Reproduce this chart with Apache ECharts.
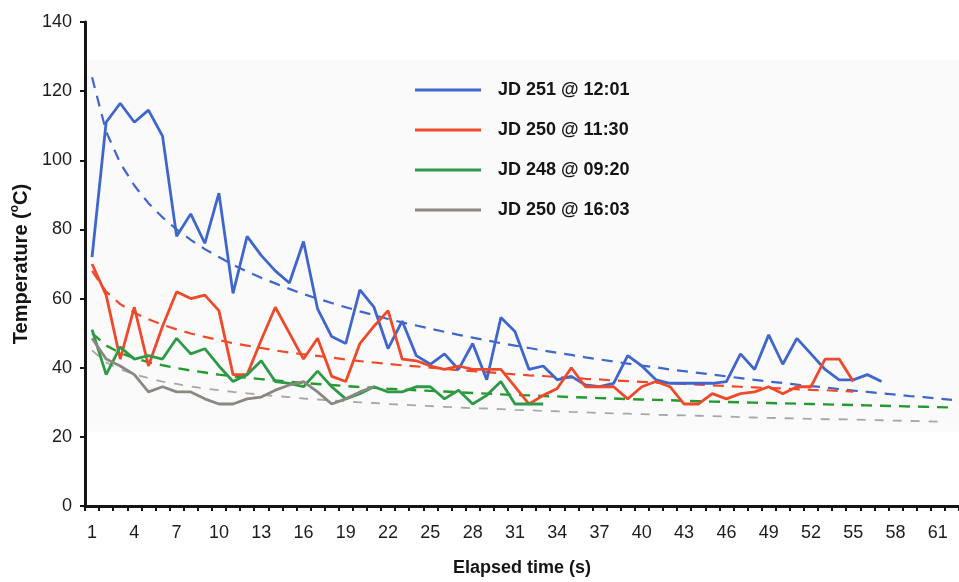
<!DOCTYPE html>
<html>
<head>
<meta charset="utf-8">
<title>Temperature vs elapsed time</title>
<script src="https://cdn.jsdelivr.net/npm/echarts@6/dist/echarts.min.js"></script>
<style>
  html, body { margin: 0; padding: 0; background: #ffffff; }
  #chart { width: 959px; height: 582px; }
</style>
</head>
<body>
<div id="chart"></div>
<script>
// Elapsed time categories (s)
const categories = ['1','2','3','4','5','6','7','8','9','10','11','12','13','14','15','16','17','18','19','20',
  '21','22','23','24','25','26','27','28','29','30','31','32','33','34','35','36','37','38','39','40',
  '41','42','43','44','45','46','47','48','49','50','51','52','53','54','55','56','57','58','59','60','61','62'];

// Y-axis ticks (°C)
const yTicks = [0, 20, 40, 60, 80, 100, 120, 140];

// Series names
const names = ['JD 251 @ 12:01', 'JD 250 @ 11:30', 'JD 248 @ 09:20', 'JD 250 @ 16:03'];

// Measured temperatures (°C)
const jd251_1201 = [72, 111, 116.5, 111, 114.5, 107, 78, 84.5, 76, 90.5, 61.5, 78, 72.5, 68, 64.5, 76.5, 57, 49, 47, 62.5,
  57.5, 45.5, 53.5, 43.5, 41, 44, 39.5, 47, 36.5, 54.5, 50.5, 39.5, 40.5, 36.5, 37.5, 35, 34.5, 35.5, 43.5, 40.5,
  36.5, 35.5, 35.5, 35.5, 35.5, 36, 44, 39.5, 49.5, 41, 48.5, 44, 39.5, 36.5, 36.5, 38, 36];
const jd250_1130 = [70, 61, 42.5, 57.5, 40.5, 52, 62, 60, 61, 56.5, 38, 38, 48, 57.5, 50, 42.5, 48.5, 37.5, 36, 47,
  52, 56.5, 42.5, 42, 40.5, 39.5, 40.5, 39.5, 39.5, 39.5, 34.5, 29.5, 32, 34, 40, 34.5, 34.5, 34.5, 31, 34.5,
  36, 34.5, 29.5, 29.5, 32.5, 31, 32.5, 33, 34.5, 32.5, 34.5, 34.5, 42.5, 42.5, 36];
const jd248_0920 = [51, 38, 46, 42.5, 43.5, 42.5, 48.5, 44, 45.5, 40.5, 36, 38, 42, 36, 35.5, 34.5, 39, 34.5, 31, 32.5,
  34.5, 33, 33, 34.5, 34.5, 31, 33.5, 29.5, 32, 36, 29.5, 29.5, 29.5];
const jd250_1603 = [48.5, 42.5, 40.5, 38, 33, 34.5, 33, 33, 31, 29.5, 29.5, 31, 31.5, 33.5, 35, 36, 33, 29.5, 31, 33, 34.5];

// Trend curves (°C)
const trend251 = [124, 108.3, 99.2, 92.7, 87.6, 83.5, 80, 77, 74.3, 72, 69.8, 67.8, 66, 64.4, 62.8, 61.3, 60, 58.7, 57.5, 56.3,
  55.2, 54.1, 53.1, 52.2, 51.3, 50.4, 49.5, 48.7, 47.9, 47.1, 46.4, 45.7, 45, 44.3, 43.7, 43, 42.4, 41.8, 41.2, 40.6,
  40.1, 39.5, 39, 38.5, 38, 37.5, 37, 36.5, 36, 35.6, 35.1, 34.7, 34.3, 33.8, 33.4, 33, 32.6, 32.2, 31.8, 31.5, 31.1, 30.7];
const trend250a = [68, 62, 58.4, 55.9, 54, 52.4, 51.1, 49.9, 48.9, 48, 47.1, 46.4, 45.7, 45, 44.4, 43.9, 43.4, 42.9, 42.4, 41.9,
  41.5, 41.1, 40.7, 40.4, 40, 39.7, 39.3, 39, 38.7, 38.4, 38.1, 37.8, 37.6, 37.3, 37.1, 36.8, 36.6, 36.3, 36.1, 35.9,
  35.7, 35.5, 35.3, 35.1, 34.9, 34.7, 34.5, 34.3, 34.1, 34, 33.8, 33.6, 33.5, 33.3, 33.1];
const trend248 = [50, 46.4, 44.3, 42.8, 41.6, 40.7, 39.9, 39.2, 38.6, 38, 37.5, 37.1, 36.7, 36.3, 35.9, 35.6, 35.3, 35, 34.7, 34.4,
  34.2, 33.9, 33.7, 33.5, 33.3, 33.1, 32.9, 32.7, 32.5, 32.3, 32.1, 32, 31.8, 31.7, 31.5, 31.4, 31.2, 31.1, 30.9, 30.8,
  30.7, 30.6, 30.4, 30.3, 30.2, 30.1, 30, 29.9, 29.8, 29.7, 29.6, 29.5, 29.4, 29.3, 29.2, 29.1, 29, 28.9, 28.8, 28.7, 28.6, 28.5];
const trend250b = [45, 41.5, 39.5, 38.1, 37, 36, 35.3, 34.6, 34, 33.5, 33, 32.6, 32.2, 31.8, 31.5, 31.1, 30.8, 30.5, 30.3, 30,
  29.8, 29.5, 29.3, 29.1, 28.9, 28.7, 28.5, 28.3, 28.2, 28, 27.8, 27.7, 27.5, 27.4, 27.2, 27.1, 26.9, 26.8, 26.7, 26.6,
  26.4, 26.3, 26.2, 26.1, 26, 25.9, 25.7, 25.6, 25.5, 25.4, 25.3, 25.2, 25.1, 25.1, 25, 24.9, 24.8, 24.7, 24.6, 24.5, 24.4];

const colors = {
  blue: '#3f66cc',
  red: '#f0492a',
  green: '#2e9a48',
  gray: '#8c8782',
  grayTrend: '#a9a7a4',
  greenTrend: '#24992e'
};

const FONT = '"Liberation Sans", Arial, Helvetica, sans-serif';

function solid(name, data, color) {
  return {
    name: name, type: 'line', data: data, symbol: 'none', z: 3,
    lineStyle: { color: color, width: 2.8 }, itemStyle: { color: color }
  };
}
function dashed(name, data, color, width, dash) {
  return {
    name: name, type: 'line', data: data, symbol: 'none', z: 2,
    lineStyle: { color: color, width: width, type: dash }, itemStyle: { color: color }
  };
}

const chart = echarts.init(document.getElementById('chart'), null, { renderer: 'canvas' });

chart.setOption({
  animation: false,
  backgroundColor: '#ffffff',
  textStyle: { fontFamily: FONT },
  grid: { left: 85, top: 22, bottom: 74, width: 876, containLabel: false },
  legend: {
    data: names,
    orient: 'vertical',
    left: 410,
    top: 76,
    itemWidth: 66,
    itemHeight: 3,
    itemGap: 22,
    icon: 'rect',
    textStyle: { fontFamily: FONT, fontSize: 18, fontWeight: 'bold', color: '#141414', padding: [0, 0, 0, 12] }
  },
  xAxis: {
    type: 'category',
    data: categories,
    boundaryGap: true,
    z: 5,
    name: 'Elapsed time (s)',
    nameLocation: 'middle',
    nameGap: 53,
    nameTextStyle: { fontFamily: FONT, fontSize: 18, fontWeight: 'bold', color: '#141414' },
    axisLine: { lineStyle: { color: '#151515', width: 3 } },
    axisTick: { show: true, interval: 0, length: 5, lineStyle: { color: '#151515', width: 2 } },
    axisLabel: { interval: 2, fontSize: 18, color: '#1c1c1c', margin: 18, fontFamily: FONT },
    splitLine: { show: false }
  },
  yAxis: {
    type: 'value',
    min: yTicks[0],
    max: yTicks[yTicks.length - 1],
    interval: yTicks[1] - yTicks[0],
    z: 5,
    name: '{t|Temperature (}{s|o}{t|C)}',
    nameLocation: 'middle',
    nameGap: 52,
    nameTextStyle: {
      rich: {
        t: { fontFamily: FONT, fontSize: 20, fontWeight: 'bold', color: '#141414', lineHeight: 24 },
        s: { fontFamily: FONT, fontSize: 12, fontWeight: 'bold', color: '#141414', lineHeight: 24, verticalAlign: 'top', padding: [0, 0, 8, 0] }
      }
    },
    axisLine: { show: true, lineStyle: { color: '#151515', width: 3 } },
    axisTick: { show: true, length: 5, lineStyle: { color: '#151515', width: 2 } },
    axisLabel: { fontSize: 18, color: '#1c1c1c', margin: 13, fontFamily: FONT },
    splitLine: { show: false }
  },
  series: [
    Object.assign(solid(names[0], jd251_1201, colors.blue), {
      markArea: {
        silent: true,
        itemStyle: { color: '#fafafa' },
        data: [[{ yAxis: 21.5 }, { yAxis: 129 }]]
      }
    }),
    solid(names[1], jd250_1130, colors.red),
    solid(names[2], jd248_0920, colors.green),
    solid(names[3], jd250_1603, colors.gray),
    dashed(names[0] + ' trend', trend251, colors.blue, 2.2, [11, 8]),
    dashed(names[1] + ' trend', trend250a, colors.red, 2.2, [11, 8]),
    dashed(names[2] + ' trend', trend248, colors.greenTrend, 2.4, [11, 8]),
    dashed(names[3] + ' trend', trend250b, colors.grayTrend, 1.8, [9, 9])
  ]
});
</script>
</body>
</html>
